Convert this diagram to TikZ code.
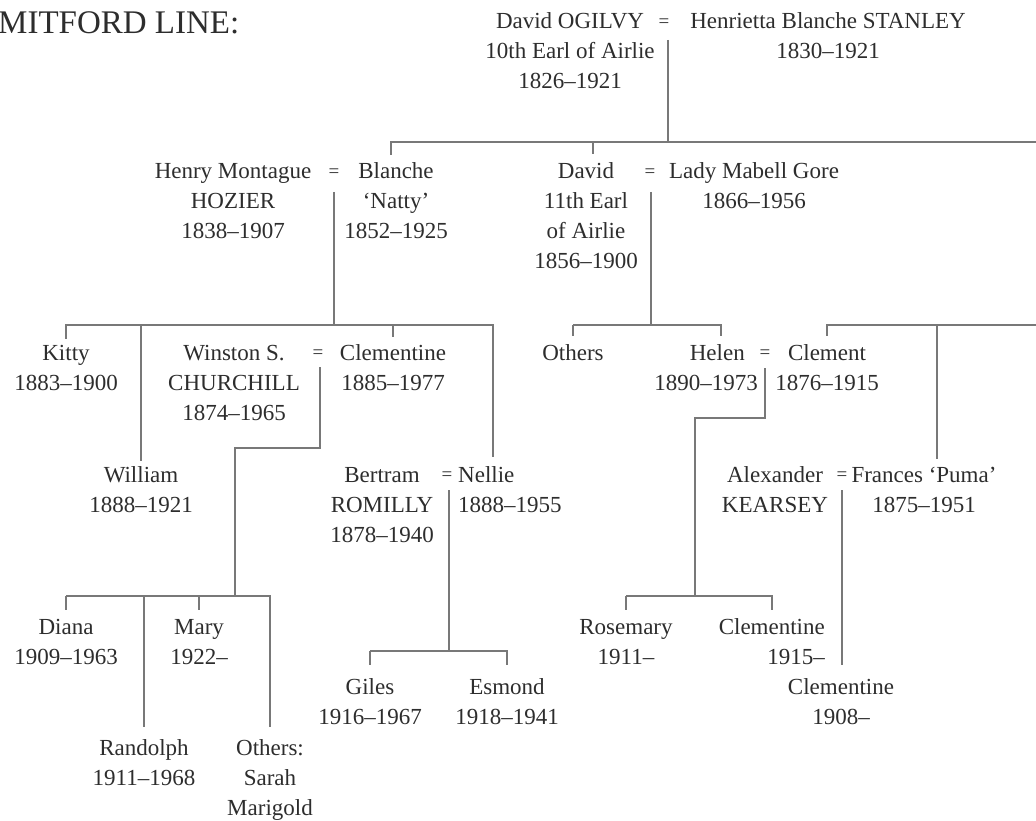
\documentclass[tikz,border=0pt]{standalone}
\usepackage{fontspec}
\setmainfont{Liberation Serif}
\definecolor{ink}{RGB}{45,45,45}
\definecolor{rule}{RGB}{120,120,120}
% stacked name/date lines; the node baseline is that of the first line
\newcommand\lines[1]{\begin{tabular}[t]{@{}c@{}}#1\end{tabular}}
\newcommand\rlines[1]{\begin{tabular}[t]{@{}r@{}}#1\end{tabular}}
\newcommand\llines[1]{\begin{tabular}[t]{@{}l@{}}#1\end{tabular}}
\begin{document}
\begin{tikzpicture}[x=1pt,y=-1pt,
  person/.style={anchor=base, inner sep=0pt, text=ink, font=\fontsize{23}{30}\selectfont},
  eq/.style={inner sep=0pt, text=ink, font=\fontsize{19}{19}\selectfont},
  link/.style={draw=rule, line width=2.2pt}]
\useasboundingbox (0,0) rectangle (1036,821);

\node[anchor=base west, inner sep=0pt, text=ink, font=\fontsize{33}{36}\selectfont] (title) at (-2,34) {MITFORD LINE:};

% ---- first generation
\node[person] (ogilvy) at (570,29) {\lines{David OGILVY\\10th Earl of Airlie\\1826–1921}};
\node[eq] (eq0) at (664,23) {=};
\node[person] (stanley) at (828,29) {\lines{Henrietta Blanche STANLEY\\1830–1921}};

% ---- second generation
\node[person] (hozier) at (233,179) {\lines{Henry Montague\\HOZIER\\1838–1907}};
\node[eq] (eq1) at (334,173) {=};
\node[person] (blanche) at (396,179) {\lines{Blanche\\‘Natty’\\1852–1925}};
\node[person] (david) at (586,179) {\lines{David\\11th Earl\\of Airlie\\1856–1900}};
\node[eq] (eq2) at (650,173) {=};
\node[person] (mabell) at (754,179) {\lines{Lady Mabell Gore\\1866–1956}};

% ---- third generation
\node[person] (kitty) at (66,360) {\lines{Kitty\\1883–1900}};
\node[person] (winston) at (234,360) {\lines{Winston S.\\CHURCHILL\\1874–1965}};
\node[eq] (eq3) at (318,354) {=};
\node[person] (clementine) at (393,360) {\lines{Clementine\\1885–1977}};
\node[person] (others1) at (573,360) {\lines{Others}};
\node[person, anchor=base east] (helen) at (758,360) {\rlines{Helen\rule{13pt}{0pt}\\1890–1973}};
\node[eq] (eq4) at (765,354) {=};
\node[person] (clement) at (827,360) {\lines{Clement\\1876–1915}};

\node[person] (william) at (141,482) {\lines{William\\1888–1921}};
\node[person] (bertram) at (382,482) {\lines{Bertram\\ROMILLY\\1878–1940}};
\node[eq] (eq5) at (447,476) {=};
\node[person, anchor=base west] (nellie) at (458,482) {\llines{Nellie\\1888–1955}};
\node[person] (alexander) at (775,482) {\lines{Alexander\\KEARSEY}};
\node[eq] (eq6) at (842,476) {=};
\node[person] (frances) at (924,482) {\lines{Frances ‘Puma’\\1875–1951}};

% ---- fourth generation
\node[person] (diana) at (66,634) {\lines{Diana\\1909–1963}};
\node[person] (mary) at (199,634) {\lines{Mary\\1922–}};
\node[person] (rosemary) at (626,634) {\lines{Rosemary\\1911–}};
\node[person, anchor=base east] (clem2) at (825,634) {\rlines{Clementine\\1915–}};
\node[person] (giles) at (370,694) {\lines{Giles\\1916–1967}};
\node[person] (esmond) at (507,694) {\lines{Esmond\\1918–1941}};
\node[person] (clem3) at (841,694) {\lines{Clementine\\1908–}};
\node[person] (randolph) at (144,755) {\lines{Randolph\\1911–1968}};
\node[person] (others2) at (270,755) {\lines{Others:\\Sarah\\Marigold}};

% ---- junction points
\coordinate (m0) at (668,40);   \coordinate (d0) at (668,142);
\coordinate (bus0w) at (391,142); \coordinate (bus0e) at (1036,142);
\coordinate (dv) at (593,142);  \coordinate (dvEnd) at (593,154);

\coordinate (m1) at (334,192);  \coordinate (d1) at (334,325);
\coordinate (n1) at (493,325);  \coordinate (n1End) at (493,457);

\coordinate (m2) at (651,192);  \coordinate (d2) at (651,325);
\coordinate (h2) at (721,325);  \coordinate (h2End) at (721,336);

\coordinate (cf) at (1036,325);
\coordinate (pf) at (937,325);  \coordinate (pfEnd) at (937,459);

\coordinate (m3) at (320,367);  \coordinate (k3) at (320,448);
\coordinate (k3b) at (235,448); \coordinate (d3) at (235,596);

\coordinate (m4) at (765,368);  \coordinate (k4) at (765,418);
\coordinate (k4b) at (695,418); \coordinate (d4) at (695,596);

\coordinate (m5) at (449,490);  \coordinate (d5) at (449,651);
\coordinate (m6) at (842,490);  \coordinate (m6End) at (842,665);

% ---- descent lines
\draw[link] (m0) -- (d0);
\draw[link] (bus0e) -- (bus0w) -- ++(0,13);
\draw[link] (dv) -- (dvEnd);

\draw[link] (m1) -- (d1);
\draw[link] (kitty.north) -- (kitty.north |- d1) -- (n1) -- (n1End);
\draw[link] (william.north |- d1) -- (william.north);
\draw[link] (clementine.north |- d1) -- ++(0,12);

\draw[link] (m2) -- (d2);
\draw[link] (others1.north |- d2) -- ++(0,11);
\draw[link] (others1.north |- d2) -- (h2) -- (h2End);

\draw[link] (cf) -- (clement.north |- cf) -- ++(0,11);
\draw[link] (pf) -- (pfEnd);

\draw[link] (m3) -- (k3) -- (k3b) -- (d3);
\draw[link] (diana.north |- d3) -- ++(0,14);
\draw[link] (diana.north |- d3) -- (others2.north |- d3) -- ++(0,131);
\draw[link] (randolph.north |- d3) -- ++(0,131);
\draw[link] (mary.north |- d3) -- ++(0,14);

\draw[link] (m4) -- (k4) -- (k4b) -- (d4);
\draw[link] (rosemary.north |- d4) -- ++(0,14);
\draw[link] (rosemary.north |- d4) -- (clem2.north |- d4) -- ++(0,14);

\draw[link] (m5) -- (d5);
\draw[link] (giles.north |- d5) -- ++(0,14);
\draw[link] (giles.north |- d5) -- (esmond.north |- d5) -- ++(0,14);

\draw[link] (m6) -- (m6End);
\end{tikzpicture}
\end{document}
